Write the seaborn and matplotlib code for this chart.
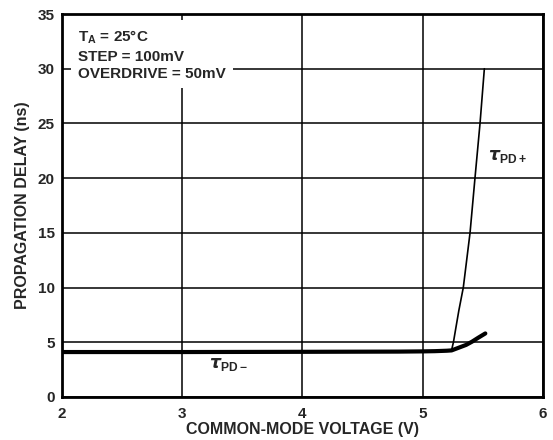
import matplotlib
matplotlib.use('Agg')
import matplotlib.pyplot as plt
import seaborn as sns
import pandas as pd

# values
vcm_minus = [2.0, 3.0, 4.0, 4.8, 5.0, 5.1, 5.2, 5.24, 5.3, 5.36, 5.41, 5.46, 5.52]
tpd_minus = [4.1, 4.1, 4.12, 4.14, 4.16, 4.18, 4.22, 4.25, 4.5, 4.75, 5.05, 5.4, 5.8]

vcm_plus = [2.0, 3.0, 4.0, 5.0, 5.2, 5.24, 5.255, 5.275, 5.3, 5.337, 5.393, 5.434, 5.476, 5.512]
tpd_plus = [4.15, 4.15, 4.17, 4.2, 4.24, 4.3, 5.0, 6.3, 7.9, 10.0, 15.0, 20.0, 25.0, 30.0]

x_ticks = [2, 3, 4, 5, 6]
y_ticks = [0, 5, 10, 15, 20, 25, 30, 35]

sns.set_style('white')
plt.rcParams['font.family'] = ['Liberation Sans', 'DejaVu Sans']
plt.rcParams['font.weight'] = 'bold'
plt.rcParams['mathtext.fontset'] = 'custom'
plt.rcParams['mathtext.bf'] = 'Liberation Sans:bold'
plt.rcParams['mathtext.rm'] = 'Liberation Sans:bold'

df_minus = pd.DataFrame({'v': vcm_minus, 't': tpd_minus})
df_plus = pd.DataFrame({'v': vcm_plus, 't': tpd_plus})

fig = plt.figure(figsize=(5.53, 4.40), dpi=100)
ax = fig.add_axes([0.112, 0.098, 0.870, 0.870])

sns.lineplot(data=df_plus, x='v', y='t', ax=ax, color='black', linewidth=1.2,
             sort=False, estimator=None)
sns.lineplot(data=df_minus, x='v', y='t', ax=ax, color='black', linewidth=3.0,
             sort=False, estimator=None)

ax.set_xlim(2, 6)
ax.set_ylim(0, 35)
ax.set_xticks(x_ticks)
ax.set_yticks(y_ticks)
ax.grid(True, color='black', linewidth=1.1)
ax.set_axisbelow(True)
ax.tick_params(axis='x', length=0, labelsize=11, pad=7)
ax.tick_params(axis='y', length=0, labelsize=11, pad=5)
for lab in ax.get_xticklabels() + ax.get_yticklabels():
    lab.set_fontweight('bold')
for sp in ax.spines.values():
    sp.set_color('black')
    sp.set_linewidth(2)

ax.set_xlabel('COMMON-MODE VOLTAGE (V)', fontsize=11.5, fontweight='bold', labelpad=1)
ax.set_ylabel('PROPAGATION DELAY (ns)', fontsize=11.5, fontweight='bold', labelpad=6)

ax.text(0.034, 0.962, r'T$_\mathbf{A}$ = 25°C' + '\nSTEP = 100mV\nOVERDRIVE = 50mV',
        transform=ax.transAxes, fontsize=11, fontweight='bold', va='top', ha='left',
        linespacing=1.3,
        bbox=dict(facecolor='white', edgecolor='none', pad=5))

ax.text(3.22, 3.0, r'$\tau_{\mathbf{PD-}}$', fontsize=12.5, ha='left', va='center')
ax.text(5.54, 22.0, r'$\tau_{\mathbf{PD+}}$', fontsize=12.5, ha='left', va='center')

fig.savefig('out.png', dpi=100)
